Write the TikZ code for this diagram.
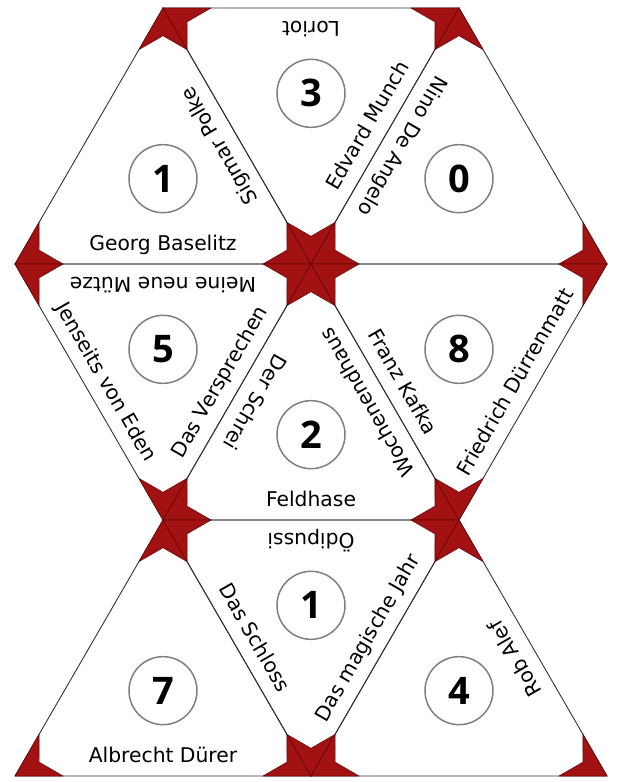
\documentclass[tikz,border=0pt]{standalone}
\usepackage{fontspec}
\setmainfont{DejaVu Sans}
\newfontfamily\numfont{Open Sans}
\usetikzlibrary{calc}
\definecolor{starfill}{HTML}{A31212}
\definecolor{starline}{HTML}{6A0808}
\definecolor{edgecol}{HTML}{333333}
\definecolor{ringcol}{HTML}{808080}
\tikzset{
  triedge/.style={draw=edgecol, line width=0.9pt, line join=miter},
  kite/.style={fill=starfill, draw=starline, line width=0.6pt, line join=round},
  ring/.style={circle, draw=ringcol, line width=1.5pt, minimum size=68pt, inner sep=0pt,
    font=\numfont\bfseries\fontsize{38}{38}\selectfont},
  lbl/.style={anchor=base, inner sep=0pt, font=\fontsize{20.3}{24}\selectfont, text=black},
}
\newcommand\tarsiaoutline[3]{\draw[triedge] (#1) -- (#2) -- (#3) -- cycle;}
\newcommand\tarsiakites[4]{%
  \filldraw[kite] (#1) -- ($(#1)!48pt!(#2)$) -- ($(#1)!27.7pt!(#4)$) -- ($(#1)!48pt!(#3)$) -- cycle;
  \filldraw[kite] (#2) -- ($(#2)!48pt!(#3)$) -- ($(#2)!27.7pt!(#4)$) -- ($(#2)!48pt!(#1)$) -- cycle;
  \filldraw[kite] (#3) -- ($(#3)!48pt!(#1)$) -- ($(#3)!27.7pt!(#4)$) -- ($(#3)!48pt!(#2)$) -- cycle;
}
\newcommand\elabel[6]{\node[lbl, rotate=#5] (#1) at ($($(#2)!0.5!(#3)$)!13.5pt!(#4)$) {#6};}
\begin{document}
\begin{tikzpicture}[x=1pt,y=-1pt]
\useasboundingbox (0,0) rectangle (622,782);
\fill[white] (0,0) rectangle (622,782);
% vertices
\coordinate (A1) at (163,8);   \coordinate (A2) at (459,8);
\coordinate (B0) at (15,264);  \coordinate (B1) at (311,264); \coordinate (B2) at (607,264);
\coordinate (C1) at (163,520); \coordinate (C2) at (459,520);
\coordinate (D0) at (15,776);  \coordinate (D1) at (311,776); \coordinate (D2) at (607,776);
% centroids
\coordinate (Ga) at (barycentric cs:B0=1,A1=1,B1=1);
\coordinate (Gb) at (barycentric cs:A1=1,A2=1,B1=1);
\coordinate (Gc) at (barycentric cs:B1=1,A2=1,B2=1);
\coordinate (Gd) at (barycentric cs:B0=1,B1=1,C1=1);
\coordinate (Ge) at (barycentric cs:C1=1,B1=1,C2=1);
\coordinate (Gf) at (barycentric cs:B1=1,B2=1,C2=1);
\coordinate (Gg) at (barycentric cs:D0=1,C1=1,D1=1);
\coordinate (Gh) at (barycentric cs:C1=1,C2=1,D1=1);
\coordinate (Gi) at (barycentric cs:D1=1,C2=1,D2=1);
% outlines
\tarsiaoutline{B0}{A1}{B1}
\tarsiaoutline{A1}{A2}{B1}
\tarsiaoutline{B1}{A2}{B2}
\tarsiaoutline{B0}{B1}{C1}
\tarsiaoutline{C1}{B1}{C2}
\tarsiaoutline{B1}{B2}{C2}
\tarsiaoutline{D0}{C1}{D1}
\tarsiaoutline{C1}{C2}{D1}
\tarsiaoutline{D1}{C2}{D2}
% star pieces
\tarsiakites{B0}{A1}{B1}{Ga}
\tarsiakites{A1}{A2}{B1}{Gb}
\tarsiakites{B1}{A2}{B2}{Gc}
\tarsiakites{B0}{B1}{C1}{Gd}
\tarsiakites{C1}{B1}{C2}{Ge}
\tarsiakites{B1}{B2}{C2}{Gf}
\tarsiakites{D0}{C1}{D1}{Gg}
\tarsiakites{C1}{C2}{D1}{Gh}
\tarsiakites{D1}{C2}{D2}{Gi}
% numbers
\node[ring] (na) at (Ga) {1};
\node[ring] (nb) at (Gb) {3};
\node[ring] (nc) at (Gc) {0};
\node[ring] (nd) at (Gd) {5};
\node[ring] (ne) at (Ge) {2};
\node[ring] (nf) at (Gf) {8};
\node[ring] (ng) at (Gg) {7};
\node[ring] (nh) at (Gh) {1};
\node[ring] (ni) at (Gi) {4};
% edge labels
\elabel{la1}{B0}{B1}{Ga}{0}{Georg Baselitz}
\elabel{la2}{A1}{B1}{Ga}{120}{Sigmar Polke}
\elabel{lb1}{A1}{A2}{Gb}{180}{Loriot}
\elabel{lb2}{A2}{B1}{Gb}{60}{Edvard Munch}
\elabel{lc1}{B1}{A2}{Gc}{-120}{Nino De Angelo}
\elabel{ld1}{B0}{B1}{Gd}{180}{Meine neue Mütze}
\elabel{ld2}{B0}{C1}{Gd}{-60}{Jenseits von Eden}
\elabel{ld3}{B1}{C1}{Gd}{60}{Das Versprechen}
\elabel{le1}{C1}{B1}{Ge}{-120}{Der Schrei}
\elabel{le2}{B1}{C2}{Ge}{120}{Wochenendhaus}
\elabel{le3}{C1}{C2}{Ge}{0}{Feldhase}
\elabel{lf1}{B1}{C2}{Gf}{-60}{Franz Kafka}
\elabel{lf2}{B2}{C2}{Gf}{60}{Friedrich Dürrenmatt}
\elabel{lg1}{D0}{D1}{Gg}{0}{Albrecht Dürer}
\elabel{lh1}{C1}{C2}{Gh}{180}{Ödipussi}
\elabel{lh2}{C1}{D1}{Gh}{-60}{Das Schloss}
\elabel{lh3}{C2}{D1}{Gh}{60}{Das magische Jahr}
\elabel{li1}{C2}{D2}{Gi}{120}{Rob Alef}
\end{tikzpicture}
\end{document}
